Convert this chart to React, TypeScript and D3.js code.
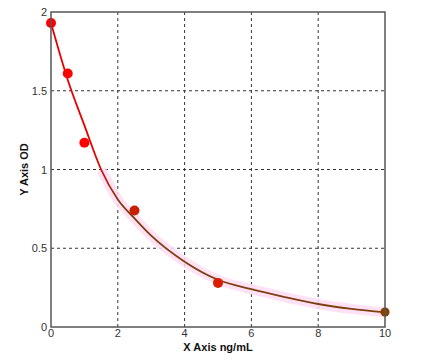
import * as d3 from 'd3';

// standards (concentration ng/mL, OD)
const stdConc = [0, 0.5, 1, 2.5, 5, 10];
const stdOD = [1.93, 1.61, 1.17, 0.74, 0.28, 0.095];
const dotColors = ['#ff0000', '#ff0000', '#ff0000', '#c82000', '#d82000', '#884000'];

// fitted curve
const fitConc = [0, 0.5, 1, 1.5, 2, 2.5, 3, 4, 5, 6, 7, 8, 9, 10];
const fitOD = [1.93, 1.57, 1.28, 1.0, 0.81, 0.69, 0.58, 0.415, 0.3, 0.24, 0.19, 0.146, 0.115, 0.093];

const xTicks = [0, 2, 4, 6, 8, 10];
const yTicks = [0, 0.5, 1, 1.5, 2];

const App = () => {
  const width = 424;
  const height = 364;
  const margin = { top: 12, right: 39, bottom: 37, left: 51 };
  const innerW = width - margin.left - margin.right;
  const innerH = height - margin.top - margin.bottom;

  const x = d3.scaleLinear().domain([0, 10]).range([0, innerW]);
  const y = d3.scaleLinear().domain([0, 2]).range([innerH, 0]);

  const fitData: [number, number][] = fitConc.map((c, i) => [c, fitOD[i]]);
  const line = d3
    .line<[number, number]>()
    .x((d) => x(d[0]))
    .y((d) => y(d[1]))
    .curve(d3.curveMonotoneX);

  const pinkPart = fitData.filter((d) => d[0] >= 1.5);

  const font = '"Liberation Sans", Arial, sans-serif';

  return (
    <svg
      width={width}
      height={height}
      style={{ position: 'absolute', left: 0, top: 0, background: '#fff' }}
    >
      <defs>
        <linearGradient
          id="fitGrad"
          gradientUnits="userSpaceOnUse"
          x1={x(1.3)}
          y1={0}
          x2={x(2.1)}
          y2={0}
        >
          <stop offset="0" stopColor="#e80000" />
          <stop offset="1" stopColor="#7e4010" />
        </linearGradient>
      </defs>
      <g transform={`translate(${margin.left},${margin.top})`}>
        {/* grid */}
        {xTicks.slice(1, -1).map((t) => (
          <line
            key={`gx${t}`}
            x1={x(t)}
            x2={x(t)}
            y1={0}
            y2={innerH}
            stroke="#333"
            strokeDasharray="3 3"
          />
        ))}
        {yTicks.slice(1, -1).map((t) => (
          <line
            key={`gy${t}`}
            x1={0}
            x2={innerW}
            y1={y(t)}
            y2={y(t)}
            stroke="#333"
            strokeDasharray="3 3"
          />
        ))}

        {/* pink halo along the lower curve */}
        <path
          d={line(pinkPart) || ''}
          fill="none"
          stroke="#ffdcf4"
          strokeWidth={10}
          opacity={0.85}
        />

        {/* fitted curve */}
        <path d={line(fitData) || ''} fill="none" stroke="url(#fitGrad)" strokeWidth={1.8} />

        {/* standards */}
        {stdConc.map((c, i) => (
          <circle
            key={`p${i}`}
            cx={x(c)}
            cy={y(stdOD[i])}
            r={i === 5 ? 4.6 : 5}
            fill={dotColors[i]}
          />
        ))}

        {/* frame */}
        <rect x={0} y={0} width={innerW} height={innerH} fill="none" stroke="#555" strokeWidth={1.5} />

        {/* tick labels */}
        {xTicks.map((t) => (
          <text
            key={`tx${t}`}
            x={x(t)}
            y={innerH + 10}
            textAnchor="middle"
            fontFamily={font}
            fontSize={11}
            fill="#333"
          >
            {t}
          </text>
        ))}
        {yTicks.map((t) => (
          <text
            key={`ty${t}`}
            x={-4}
            y={y(t) + 4}
            textAnchor="end"
            fontFamily={font}
            fontSize={11}
            fill="#333"
          >
            {t}
          </text>
        ))}

        {/* axis titles */}
        <text
          x={innerW / 2}
          y={innerH + 24}
          textAnchor="middle"
          fontFamily={font}
          fontSize={11}
          fontWeight="bold"
          fill="#111"
        >
          X Axis ng/mL
        </text>
        <text
          transform={`translate(${-23},${innerH / 2}) rotate(-90)`}
          textAnchor="middle"
          fontFamily={font}
          fontSize={11}
          fontWeight="bold"
          fill="#111"
        >
          Y Axis OD
        </text>
      </g>
    </svg>
  );
};

export default App;
